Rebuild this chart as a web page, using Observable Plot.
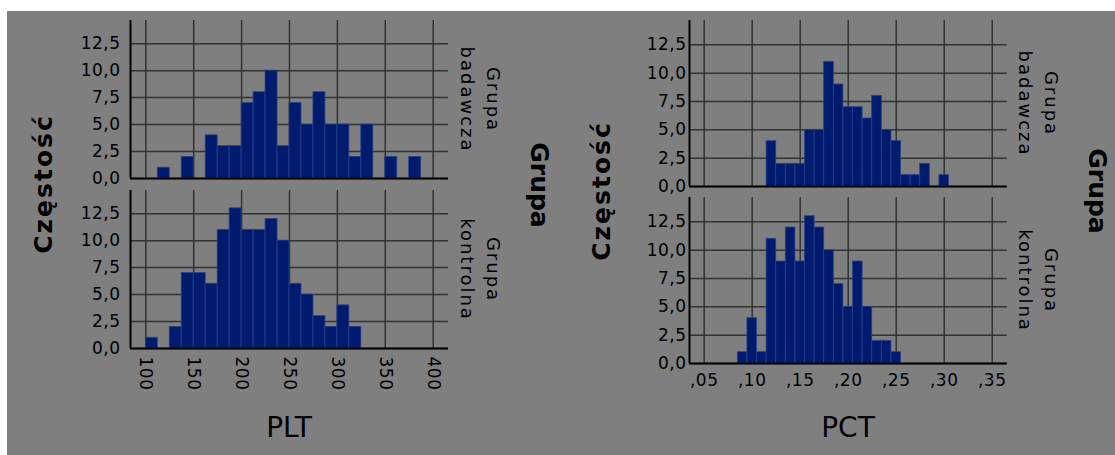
<!DOCTYPE html>
<html>
<head>
<meta charset="utf-8">
<script src="https://cdn.jsdelivr.net/npm/d3@7"></script>
<script src="https://cdn.jsdelivr.net/npm/@observablehq/plot@0.6"></script>
<style>
  html, body { margin: 0; padding: 0; background: #ffffff; }
  #wrap { position: relative; width: 1115px; height: 455px; overflow: hidden; background: #ffffff; }
  #bg { position: absolute; left: 7px; top: 11px; width: 1108px; height: 444px; background: #7f7f7f; }
  .panel { position: absolute; top: 0; }
  #overlay { position: absolute; left: 0; top: 0; }
</style>
</head>
<body>
<div id="wrap">
  <div id="bg"></div>
  <div id="left" class="panel" style="left:0px"></div>
  <div id="right" class="panel" style="left:560px"></div>
  <svg id="overlay" width="1115" height="455"></svg>
</div>
<script>
// ---------- data ----------
const groups = ["Grupa badawcza", "Grupa kontrolna"];

// PLT histogram bin edges (24 edges -> 23 bins)
const pltEdges = [100, 112.5, 125, 137.5, 150, 162.5, 175, 187.5, 200, 212.5, 225, 237.5,
                  250, 262.5, 275, 287.5, 300, 312.5, 325, 337.5, 350, 362.5, 375, 387.5];
const pltBadawcza = [0, 1, 0, 2, 0, 4, 3, 3, 7, 8, 10, 3, 7, 5, 8, 5, 5, 2, 5, 0, 2, 0, 2];
const pltKontrolna = [1, 0, 2, 7, 7, 6, 11, 13, 11, 11, 12, 10, 6, 5, 3, 2, 4, 2, 0, 0, 0, 0, 0];

// PCT histogram bin edges (23 edges -> 22 bins)
const pctEdges = [0.085, 0.095, 0.105, 0.115, 0.125, 0.135, 0.145, 0.155, 0.165, 0.175, 0.185, 0.195,
                  0.205, 0.215, 0.225, 0.235, 0.245, 0.255, 0.265, 0.275, 0.285, 0.295, 0.305];
const pctBadawcza = [0, 0, 0, 4, 2, 2, 2, 5, 5, 11, 9, 7, 7, 6, 8, 5, 4, 1, 1, 2, 0, 1];
const pctKontrolna = [1, 4, 1, 11, 9, 12, 9, 13, 12, 10, 7, 5, 9, 5, 2, 2, 1, 0, 0, 0, 0, 0];

// tick labels
const yTicks = [0, 2.5, 5, 7.5, 10, 12.5];
const pltTicks = [100, 150, 200, 250, 300, 350, 400];
const pctTicks = [0.05, 0.10, 0.15, 0.20, 0.25, 0.30, 0.35];

// titles
const yTitle = "Częstość";
const fyTitle = "Grupa";
const pltTitle = "PLT";
const pctTitle = "PCT";

// ---------- build tables ----------
function rows(edges, countsByGroup) {
  const out = [];
  groups.forEach((g, gi) => {
    countsByGroup[gi].forEach((c, i) => {
      if (c > 0) out.push({group: g, x1: edges[i], x2: edges[i + 1], count: c});
    });
  });
  return out;
}
const pltData = rows(pltEdges, [pltBadawcza, pltKontrolna]);
const pctData = rows(pctEdges, [pctBadawcza, pctKontrolna]);

const fmtY = d => d.toFixed(1).replace(".", ",");
const fmtPct = d => d.toFixed(2).replace("0.", ",");

const barFill = "#001a6e";
const barStroke = "#24418f";
const gridColor = "#333333";
const font = "DejaVu Sans";

function panel({data, domain, ticks, tickFmt, width, marginLeft, marginRight, marginBottom, fyPad, rotateX, yPad, xPad}) {
  const svg = Plot.plot({
    width, height: 455,
    marginLeft, marginRight, marginTop: 20, marginBottom,
    style: {background: "transparent", fontFamily: font, fontSize: "17px", color: "#000", overflow: "visible"},
    x: {domain, label: null},
    y: {domain: [0, 14.65], label: null},
    fy: {domain: groups, padding: fyPad, label: null},
    marks: [
      Plot.gridX(ticks, {stroke: gridColor, strokeOpacity: 1, strokeWidth: 1.5}),
      Plot.gridY(yTicks, {stroke: gridColor, strokeOpacity: 1, strokeWidth: 1.5}),
      Plot.rectY(data, {x1: "x1", x2: "x2", y: "count", fy: "group", fill: barFill, stroke: barStroke, strokeWidth: 0.8}),
      Plot.ruleX([domain[0]], {stroke: "#000", strokeWidth: 2}),
      Plot.ruleY([0], {stroke: "#000", strokeWidth: 2}),
      rotateX
        ? Plot.axisX(ticks, {tickSize: 0, tickPadding: xPad, tickRotate: 90, textAnchor: "start", lineAnchor: "middle", tickFormat: tickFmt, label: null})
        : Plot.axisX(ticks, {tickSize: 0, tickPadding: xPad, tickFormat: tickFmt, label: null}),
      Plot.axisY(yTicks, {tickSize: 0, tickPadding: yPad, tickFormat: fmtY, label: null}),
      Plot.axisFy({anchor: "right", tickSize: 0, tickPadding: 12, tickRotate: 90, textAnchor: "middle", lineAnchor: "bottom", lineHeight: 1.45, fontSize: 18, tickFormat: d => d.replace(" ", "\n"), label: null})
    ]
  });
  d3.select(svg).selectAll('[aria-label="fy-axis tick label"] text').attr("letter-spacing", "2px");
  d3.select(svg).selectAll('[aria-label="y-axis tick label"] text, [aria-label="x-axis tick label"] text').attr("letter-spacing", "0.5px");
  return svg;
}

document.getElementById("left").append(panel({
  data: pltData, domain: [84, 416], ticks: pltTicks, tickFmt: d => String(d),
  width: 560, marginLeft: 130, marginRight: 112, marginBottom: 106.7, fyPad: 0.072,
  rotateX: true, yPad: 10, xPad: 8
}));

document.getElementById("right").append(panel({
  data: pctData, domain: [0.0347, 0.3656], ticks: pctTicks, tickFmt: fmtPct,
  width: 555, marginLeft: 129, marginRight: 108.3, marginBottom: 91.7, fyPad: 0.064,
  rotateX: false, yPad: 3, xPad: 10
}));

// ---------- titles ----------
const ov = d3.select("#overlay").style("font-family", font);
function vtext(txt, cx, cy, rot, spacing) {
  ov.append("text").attr("transform", `translate(${cx},${cy}) rotate(${rot})`)
    .attr("text-anchor", "middle").attr("dominant-baseline", "central")
    .attr("letter-spacing", spacing)
    .attr("font-size", 25).attr("font-weight", "bold").attr("fill", "#000").text(txt);
}
vtext(yTitle, 43, 184, -90, "2px");
vtext(fyTitle, 539, 185, 90, "0px");
vtext(yTitle, 601, 191, -90, "2px");
vtext(fyTitle, 1097, 191, 90, "0px");
ov.append("text").attr("x", 289).attr("y", 437).attr("text-anchor", "middle")
  .attr("font-size", 28).attr("fill", "#000").text(pltTitle);
ov.append("text").attr("x", 848).attr("y", 437).attr("text-anchor", "middle")
  .attr("font-size", 28).attr("fill", "#000").text(pctTitle);
</script>
</body>
</html>
